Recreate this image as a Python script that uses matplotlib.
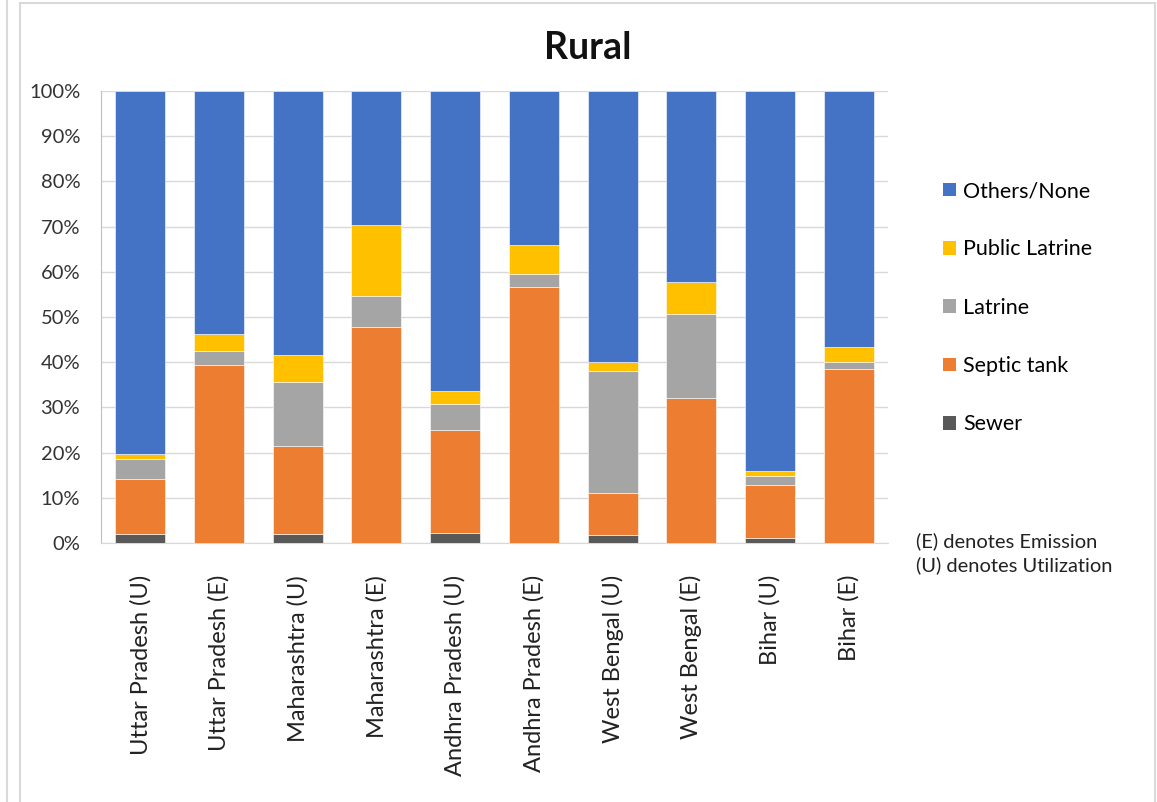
import matplotlib
matplotlib.use("Agg")
import matplotlib.pyplot as plt
from matplotlib.patches import Patch, Rectangle
import numpy as np

plt.rcParams['font.family'] = ['Lato', 'DejaVu Sans']

categories = ["Uttar Pradesh (U)", "Uttar Pradesh (E)", "Maharashtra (U)", "Maharashtra (E)",
              "Andhra Pradesh (U)", "Andhra Pradesh (E)", "West Bengal (U)", "West Bengal (E)",
              "Bihar (U)", "Bihar (E)"]
sewer = [2.0, 0.0, 2.0, 0.0, 2.2, 0.0, 1.8, 0.0, 1.1, 0.0]
septic = [12.1, 39.4, 19.5, 47.8, 22.8, 56.6, 9.3, 32.0, 11.7, 38.5]
latrine = [4.5, 3.1, 14.1, 6.8, 5.8, 2.9, 26.9, 18.7, 2.1, 1.5]
public = [1.1, 3.7, 6.0, 15.8, 2.8, 6.5, 2.0, 7.0, 1.0, 3.4]
others = [100 - a - b - c - d for a, b, c, d in zip(sewer, septic, latrine, public)]

series = [("Sewer", sewer, "#595959"),
          ("Septic tank", septic, "#ED7D31"),
          ("Latrine", latrine, "#A5A5A5"),
          ("Public Latrine", public, "#FFC000"),
          ("Others/None", others, "#4472C4")]

fig = plt.figure(figsize=(11.57, 8.02), dpi=100)
# outer chart frame
fig.patches.append(Rectangle((20/1157, -0.01), (1155-20)/1157, (802-3)/802 + 0.01,
                             transform=fig.transFigure, fill=False, edgecolor="#D9D9D9", lw=1.5))
fig.patches.append(Rectangle((-0.01, -0.01), 7/1157 + 0.01, 1.02,
                             transform=fig.transFigure, fill=False, edgecolor="#D9D9D9", lw=1.5))

ax = fig.add_axes([101/1157, (802-543)/802, (888-101)/1157, (543-91)/802])
x = np.arange(len(categories))
bottom = np.zeros(len(categories))
handles = []
for name, vals, col in series:
    ax.bar(x, vals, bottom=bottom, width=0.635, color=col, edgecolor="white", linewidth=0.4, zorder=3)
    bottom += np.array(vals)
    handles.append(Patch(facecolor=col, label=name))

ax.set_xlim(-0.5, len(categories) - 0.5)
ax.set_ylim(0, 100)
ax.set_yticks(np.arange(0, 101, 10))
ax.set_yticklabels([f"{v}%" for v in range(0, 101, 10)], fontsize=14.5, color="#333333")
ax.set_xticks(x)
ax.set_xticklabels(categories, rotation=90, fontsize=17, color="#222222")
ax.tick_params(axis='both', length=0)
ax.tick_params(axis='x', pad=23)
ax.tick_params(axis='y', pad=15)
ax.grid(axis='y', color="#D9D9D9", lw=1, zorder=0)
for s in ["top", "right"]:
    ax.spines[s].set_visible(False)
ax.spines["left"].set_color("#BFBFBF")
ax.spines["bottom"].set_color("#D9D9D9")

fig.text(588/1157, (802-48)/802, "Rural", fontsize=27, fontweight="bold", color="#111111",
         ha="center", va="center")

fig.legend(handles=handles[::-1], loc="upper left", bbox_to_anchor=(943/1157, (802-181)/802),
           frameon=False, fontsize=15.5, handlelength=0.6, handleheight=0.6, handletextpad=0.35,
           labelspacing=1.78, borderpad=0, borderaxespad=0)

fig.text(916/1157, (802-553)/802, "(E) denotes Emission\n(U) denotes Utilization",
         fontsize=14.5, color="#222222", va="center", ha="left", linespacing=1.38)

fig.savefig("out.png", dpi=100)
